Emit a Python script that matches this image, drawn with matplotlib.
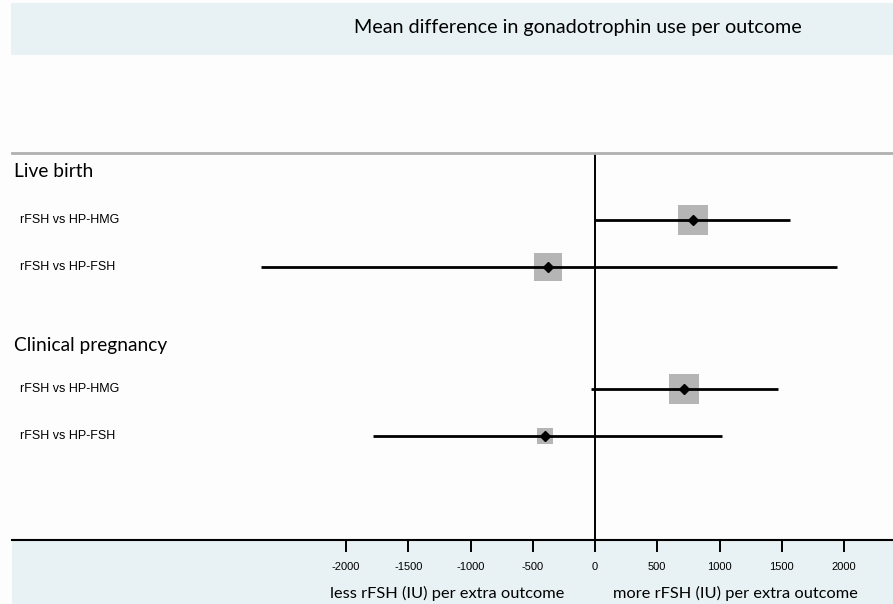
import matplotlib.pyplot as plt
from matplotlib.patches import Rectangle

# =========================================================
# DATOS
# =========================================================

grupos = ["Live birth", "Clinical pregnancy"]
comparaciones = ["rFSH vs HP-HMG", "rFSH vs HP-FSH", "rFSH vs HP-HMG", "rFSH vs HP-FSH"]
media = [790, -380, 715, -400]
ic_inf = [0, -2680, -30, -1780]
ic_sup = [1570, 1945, 1470, 1020]
peso = [1.0, 0.93, 1.0, 0.53]   # tamaño relativo del cuadrado

ticks_x = [-2000, -1500, -1000, -500, 0, 500, 1000, 1500, 2000]

# =========================================================
# FIGURA
# =========================================================

W, H = 893, 604
fig = plt.figure(figsize=(W / 100, H / 100), dpi=100, facecolor="#fdfdfe")

def fx(px):
    return px / W

def fy(py):
    return 1 - py / H

color_banda = "#e8f2f4"

# banda superior y banda inferior (detrás de los ejes)
fig.patches.append(Rectangle((fx(11), fy(55)), 1 - fx(11), (55 - 3) / H,
                             transform=fig.transFigure, facecolor=color_banda,
                             edgecolor="none", zorder=-5))
fig.patches.append(Rectangle((fx(12), 0), 1 - fx(12), fy(541),
                             transform=fig.transFigure, facecolor=color_banda,
                             edgecolor="none", zorder=-5))

ax = fig.add_axes([fx(12), fy(540), 1 - fx(12), (540 - 153) / H])
ax.set_facecolor("none")

# escala x: 0 en px 595, 0.1245 px por UI
escala = 0.1245
ax.set_xlim((12 - 595) / escala, (893 - 595) / escala)
ax.set_ylim(8.23, 0)

pos_grupos = [0.40, 4.09]
pos_filas = [1.43, 2.43, 5.02, 6.02]

ax.axvline(0, color="black", lw=1.4, zorder=2)

for i in range(len(media)):
    y = pos_filas[i]
    ax.plot([ic_inf[i], ic_sup[i]], [y, y], color="black", lw=2.0, zorder=3,
            solid_capstyle="butt")
    ax.plot(media[i], y, marker="s", markersize=21.6 * peso[i], color="#b5b5b5",
            markeredgewidth=0, zorder=2.5)
    ax.plot(media[i], y, marker="D", markersize=5.5, color="black", zorder=4)

trans = ax.get_yaxis_transform()
for g, y in zip(grupos, pos_grupos):
    ax.text(0.002, y, g, transform=trans, fontsize=13.8, family="Lato",
            va="center", ha="left")
for c, y in zip(comparaciones, pos_filas):
    ax.text(0.009, y, c, transform=trans, fontsize=9, family="Liberation Sans",
            va="center", ha="left")

# ejes
for lado in ["left", "right"]:
    ax.spines[lado].set_visible(False)
ax.spines["top"].set_color("#b0b0b0")
ax.spines["top"].set_linewidth(2)
ax.spines["bottom"].set_color("black")
ax.spines["bottom"].set_linewidth(1.5)

ax.set_yticks([])
ax.set_xticks(ticks_x)
ax.set_xticklabels([str(t) for t in ticks_x], family="Liberation Sans", fontsize=8)
ax.tick_params(axis="x", direction="out", length=8.5, width=1.4, pad=7)

# textos
fig.text(fx(578), fy(27), "Mean difference in gonadotrophin use per outcome",
         fontsize=14.2, family="Lato", ha="center", va="center")
fig.text(fx(447), fy(593), "less rFSH (IU) per extra outcome",
         fontsize=11.8, family="Lato", ha="center", va="center")
fig.text(fx(735), fy(593), "more rFSH (IU) per extra outcome",
         fontsize=11.8, family="Lato", ha="center", va="center")

fig.savefig("out.png", dpi=100, facecolor=fig.get_facecolor())
